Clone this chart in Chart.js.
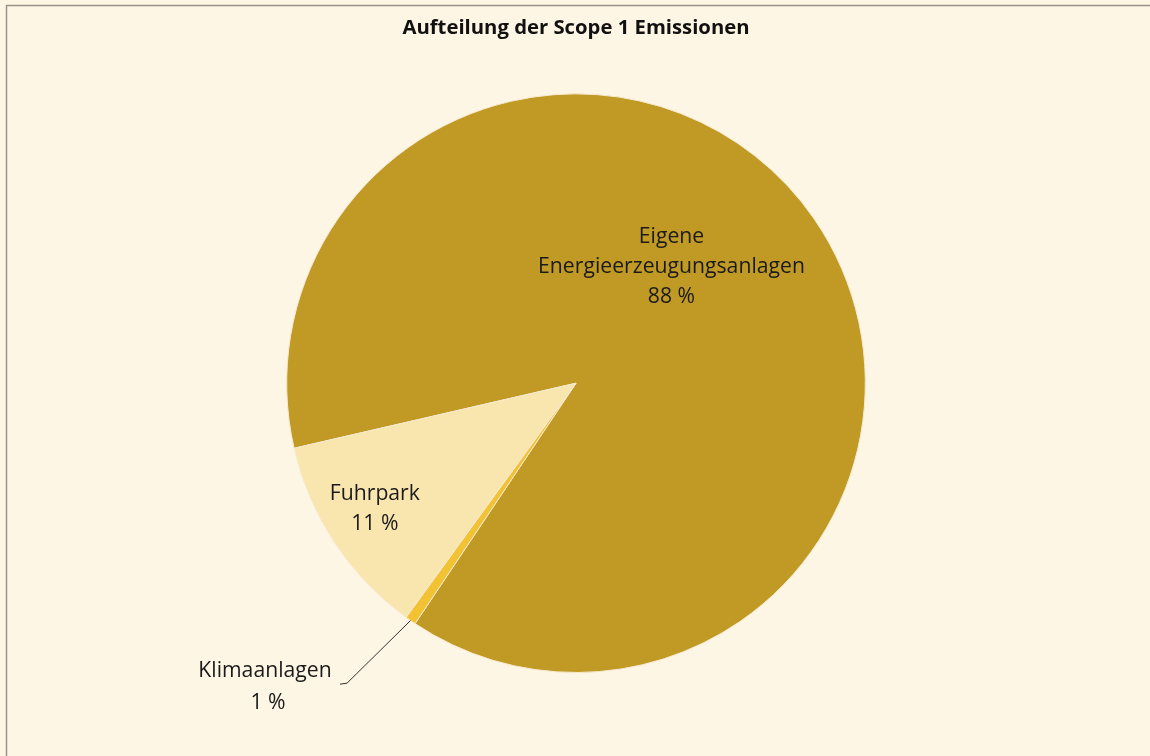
<!DOCTYPE html>
<html>
<head>
<meta charset="utf-8">
<script src="https://cdn.jsdelivr.net/npm/chart.js@4"></script>
<style>
  html, body { margin: 0; padding: 0; background: #fef6e4; }
  .chart-container { position: relative; width: 1150px; height: 756px; }
</style>
</head>
<body>
<div class="chart-container"><canvas id="chart"></canvas></div>
<script>
'use strict'

const title = 'Aufteilung der Scope 1 Emissionen'
const categories = ['Eigene Energieerzeugungsanlagen', 'Klimaanlagen', 'Fuhrpark']
const labelLines = [['Eigene', 'Energieerzeugungsanlagen'], ['Klimaanlagen'], ['Fuhrpark']]
const values = [88.0, 0.6, 11.4]
const colors = ['#c09a25', '#f2c232', '#f9e5ae']

const font = '"Open Sans", Lato, sans-serif'

const frame = {
  id: 'frame',
  beforeDraw(chart) {
    const { ctx, width, height } = chart
    ctx.save()
    ctx.fillStyle = '#fef6e4'
    ctx.fillRect(0, 0, width, height)
    ctx.strokeStyle = '#9a928a'
    ctx.lineWidth = 1.5
    ctx.beginPath()
    ctx.moveTo(width, 5.5)
    ctx.lineTo(6.5, 5.5)
    ctx.lineTo(6.5, height)
    ctx.stroke()
    ctx.restore()
  }
}

// label placement: angle shift (deg) from slice middle and radius fraction; outside ones get a leader
const labelPlace = [
  { shift: -16, r: 0.52 },
  { outside: true },
  { shift: 1.5, r: 0.82 }
]

const sliceLabels = {
  id: 'sliceLabels',
  afterDatasetsDraw(chart) {
    const { ctx } = chart
    const meta = chart.getDatasetMeta(0)
    const total = values.reduce((a, b) => a + b, 0)
    ctx.save()
    ctx.font = '21.2px ' + font
    ctx.fillStyle = '#1a1a1a'
    ctx.textAlign = 'center'
    ctx.textBaseline = 'middle'
    meta.data.forEach((arc, i) => {
      const { x, y, startAngle, endAngle, outerRadius } = arc.getProps(['x', 'y', 'startAngle', 'endAngle', 'outerRadius'], true)
      const pct = Math.max(1, Math.round(values[i] / total * 100)) + ' %'
      const lines = labelLines[i].concat([pct])
      const mid = (startAngle + endAngle) / 2
      const place = labelPlace[i]
      let lx, ly
      if (place.outside) {
        const ex = x + Math.cos(mid) * outerRadius
        const ey = y + Math.sin(mid) * outerRadius
        lx = x - 311
        ly = y + 304
        ctx.strokeStyle = '#333'
        ctx.lineWidth = 1
        ctx.beginPath()
        ctx.moveTo(ex, ey)
        ctx.lineTo(lx + 82, ly - 4)
        ctx.lineTo(lx + 75, ly - 3)
        ctx.stroke()
        ctx.fillText(lines[0], lx, ly - 16)
        ctx.fillText(lines[1], lx + 3, ly + 16)
        return
      }
      const a = mid + place.shift * Math.PI / 180
      lx = x + Math.cos(a) * outerRadius * place.r
      ly = y + Math.sin(a) * outerRadius * place.r
      const h = 30
      lines.forEach((t, k) => {
        ctx.fillText(t, lx, ly + (k - (lines.length - 1) / 2) * h)
      })
    })
    ctx.restore()
  }
}

new Chart(document.getElementById('chart').getContext('2d'), {
  type: 'pie',
  data: {
    labels: categories,
    datasets: [{
      data: values,
      backgroundColor: colors,
      borderColor: '#f6ead0',
      borderWidth: 1
    }]
  },
  options: {
    responsive: true,
    maintainAspectRatio: false,
    animation: false,
    rotation: 257,
    layout: { padding: { left: 2, right: 0, top: 0, bottom: 83 } },
    plugins: {
      legend: { display: false },
      tooltip: { enabled: false },
      title: {
        display: true,
        text: title,
        color: '#111',
        font: { family: font, size: 20.3, weight: 'bold', lineHeight: 1.2 },
        padding: { top: 16, bottom: 53 }
      }
    }
  },
  plugins: [frame, sliceLabels]
})
</script>
</body>
</html>
